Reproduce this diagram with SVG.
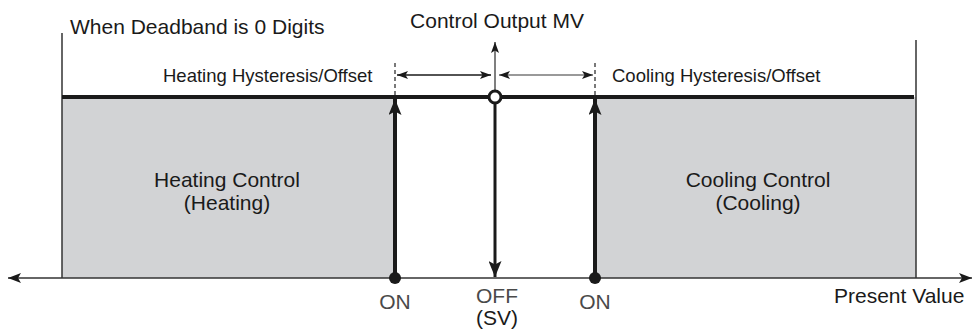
<svg xmlns="http://www.w3.org/2000/svg" width="974" height="332" viewBox="0 0 974 332">
<style>
text{font-family:"Liberation Sans",Arial,sans-serif;fill:#1a1a1a}
.t21{font-size:21px}
.t18{font-size:18.5px}
.g{fill:#4a4a4a}
.mid{text-anchor:middle}
.thin{stroke:#333;stroke-width:1.5;fill:none}
.dash{stroke:#333;stroke-width:1.3;stroke-dasharray:4 3;fill:none}
</style>
<defs>
<marker id="ah" viewBox="0 0 13 10" refX="13" refY="5" markerWidth="13" markerHeight="10" markerUnits="userSpaceOnUse" orient="auto-start-reverse">
<path d="M0,0 L13,5 L0,10 L3,5 Z" fill="#1a1a1a"/>
</marker>
<marker id="ahs" viewBox="0 0 11 8" refX="11" refY="4" markerWidth="11" markerHeight="8" markerUnits="userSpaceOnUse" orient="auto-start-reverse">
<path d="M0,0 L11,4 L0,8 L2.5,4 Z" fill="#1a1a1a"/>
</marker>
<marker id="ahb" viewBox="0 0 16 13" refX="16" refY="6.5" markerWidth="16" markerHeight="13" markerUnits="userSpaceOnUse" orient="auto">
<path d="M0,0 L16,6.5 L0,13 L3.5,6.5 Z" fill="#1a1a1a"/>
</marker>
</defs>
<g id="regions">
<rect id="heating-region" x="62" y="97" width="333" height="181" fill="#d2d3d5"/>
<rect id="cooling-region" x="595" y="97" width="321" height="181" fill="#d2d3d5"/>
</g>
<g id="connectors">
<line class="thin" x1="62" y1="33" x2="62" y2="278"/>
<line class="thin" x1="916" y1="40" x2="916" y2="278"/>
<line class="thin" x1="8" y1="278" x2="972" y2="278" marker-start="url(#ah)" marker-end="url(#ah)"/>
<line x1="62" y1="97" x2="914" y2="97" stroke="#1a1a1a" stroke-width="4"/>
<line class="dash" x1="395" y1="63" x2="395" y2="95"/>
<line class="dash" x1="595" y1="63" x2="595" y2="95"/>
<line x1="397" y1="75" x2="491" y2="75" stroke="#1a1a1a" stroke-width="1.3" marker-start="url(#ahs)" marker-end="url(#ahs)"/>
<line x1="499" y1="75" x2="593" y2="75" stroke="#777" stroke-width="1.3" marker-start="url(#ahs)" marker-end="url(#ahs)"/>
<line x1="495" y1="90" x2="495" y2="42" stroke="#555" stroke-width="1.5" marker-end="url(#ahs)"/>
<line x1="395" y1="278" x2="395" y2="99" stroke="#1a1a1a" stroke-width="4" marker-end="url(#ahb)"/>
<line x1="595" y1="278" x2="595" y2="99" stroke="#1a1a1a" stroke-width="4" marker-end="url(#ahb)"/>
<line x1="495" y1="104" x2="495" y2="277" stroke="#1a1a1a" stroke-width="3" marker-end="url(#ahb)"/>
</g>
<g id="points">
<circle id="sv-point" cx="495" cy="97" r="6" fill="#fff" stroke="#1a1a1a" stroke-width="3"/>
<circle id="heat-on" cx="395" cy="278" r="6" fill="#1a1a1a"/>
<circle id="cool-on" cx="595" cy="278" r="6" fill="#1a1a1a"/>
</g>
<g id="labels">
<text class="t21" x="70" y="34">When Deadband is 0 Digits</text>
<text class="t21 mid" x="497" y="28">Control Output MV</text>
<text class="t18" x="163" y="82">Heating Hysteresis/Offset</text>
<text class="t18" x="612" y="82">Cooling Hysteresis/Offset</text>
<text class="t21 mid" x="227" y="187">Heating Control</text>
<text class="t21 mid" x="227" y="210">(Heating)</text>
<text class="t21 mid" x="758" y="187">Cooling Control</text>
<text class="t21 mid" x="758" y="210">(Cooling)</text>
<text class="t21 mid g" x="395" y="309">ON</text>
<text class="t21 mid g" x="497" y="303">OFF</text>
<text class="t21 mid" x="497" y="325">(SV)</text>
<text class="t21 mid g" x="595" y="309">ON</text>
<text class="t21" x="834" y="303">Present Value</text>
</g>
</svg>
